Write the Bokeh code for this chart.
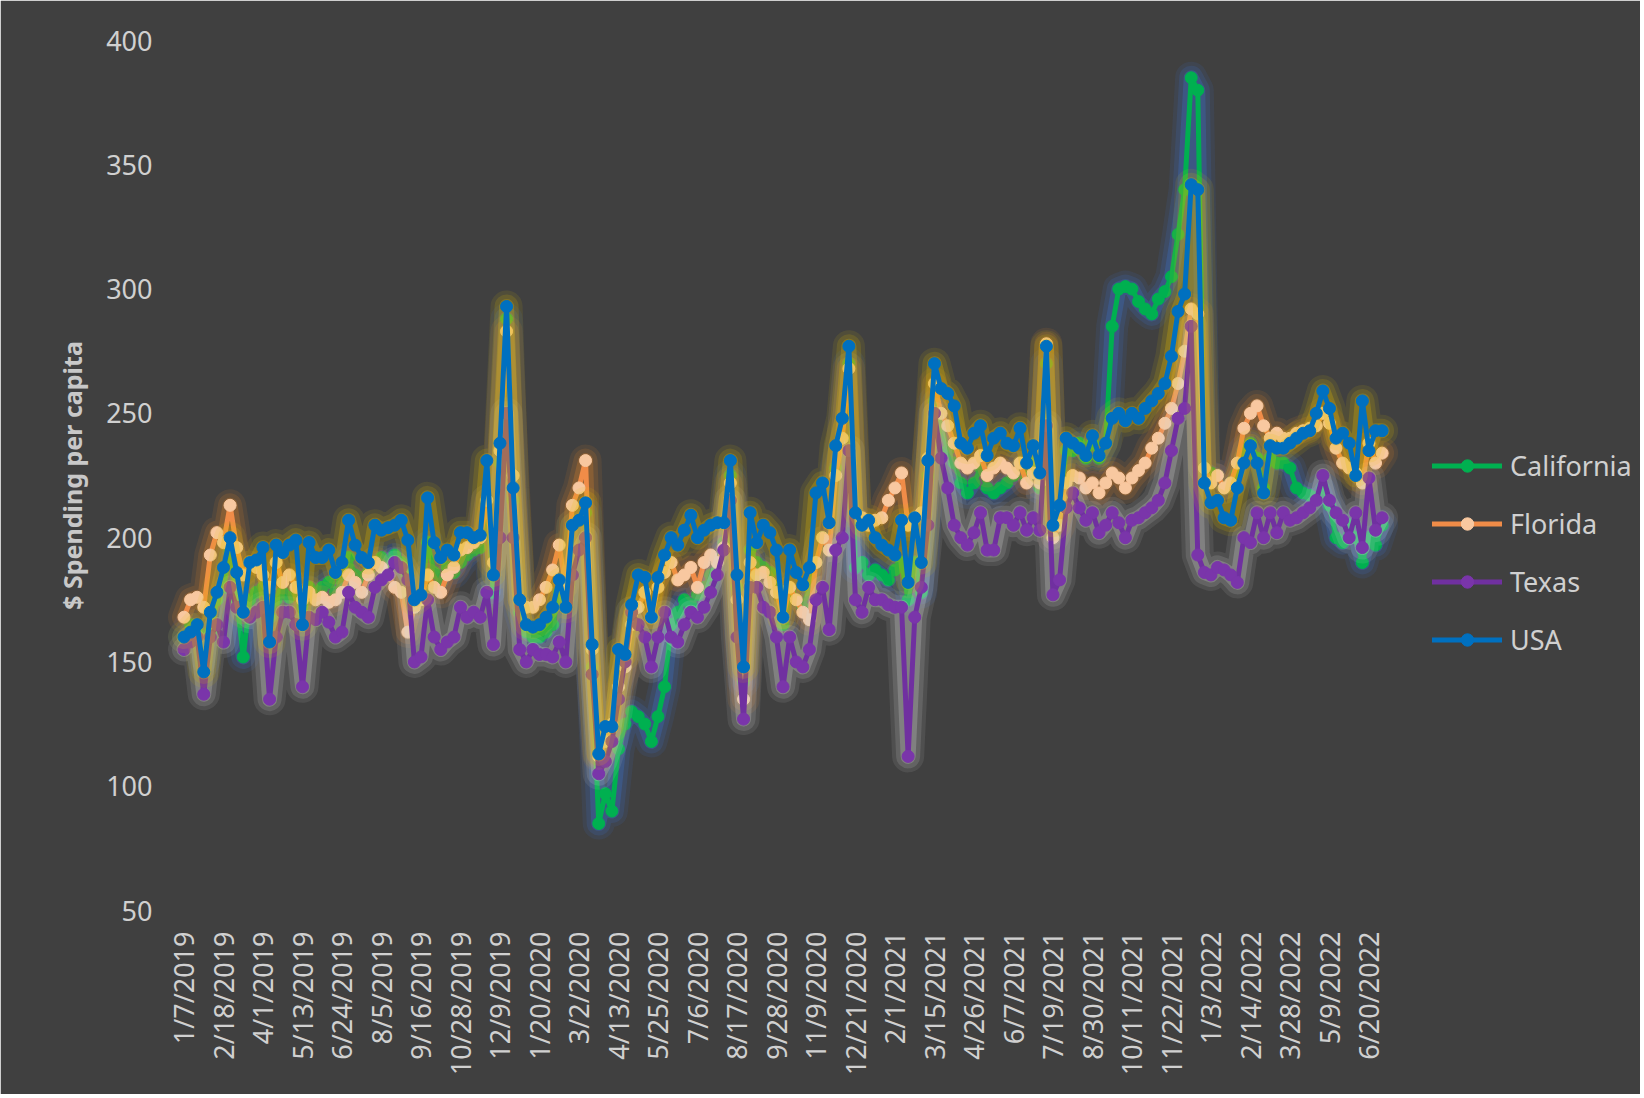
import math
from bokeh.plotting import figure
from bokeh.models import Range1d, FixedTicker, Legend, LegendItem
from bokeh.embed import file_html
from bokeh.resources import INLINE

# Tick labels (every 6th week)
tick_labels = ["1/7/2019", "2/18/2019", "4/1/2019", "5/13/2019", "6/24/2019", "8/5/2019",
               "9/16/2019", "10/28/2019", "12/9/2019", "1/20/2020", "3/2/2020", "4/13/2020",
               "5/25/2020", "7/6/2020", "8/17/2020", "9/28/2020", "11/9/2020", "12/21/2020",
               "2/1/2021", "3/15/2021", "4/26/2021", "6/7/2021", "7/19/2021", "8/30/2021",
               "10/11/2021", "11/22/2021", "1/3/2022", "2/14/2022", "3/28/2022", "5/9/2022",
               "6/20/2022"]

california = [160, 165, 162, 150, 162, 175, 180, 195, 175, 152,
              175, 178, 180, 168, 175, 178, 176, 180, 165, 180,
              178, 180, 182, 178, 182, 192, 185, 184, 186, 190,
              192, 190, 193, 190, 185, 172, 175, 198, 186, 182,
              188, 186, 190, 193, 195, 196, 215, 178, 230, 288,
              215, 170, 162, 160, 160, 162, 165, 178, 172, 205,
              207, 210, 148, 85, 97, 90, 115, 125, 130, 128,
              125, 118, 128, 140, 165, 170, 175, 173, 177, 180,
              185, 190, 198, 225, 180, 142, 195, 190, 188, 186,
              180, 165, 178, 175, 172, 180, 190, 200, 195, 228,
              240, 270, 188, 190, 185, 187, 185, 183, 187, 190,
              175, 190, 178, 225, 255, 245, 235, 230, 222, 218,
              222, 228, 220, 218, 220, 222, 225, 230, 224, 230,
              220, 270, 200, 212, 235, 235, 238, 232, 238, 232,
              238, 285, 300, 301, 300, 295, 292, 290, 296, 299,
              305, 322, 340, 385, 380, 228, 226, 225, 220, 222,
              226, 235, 238, 232, 220, 232, 230, 230, 228, 220,
              218, 217, 216, 220, 213, 200, 198, 205, 200, 190,
              200, 197, 205]

florida = [168, 175, 176, 172, 193, 202, 198, 213, 196, 185,
           190, 188, 185, 180, 190, 182, 185, 180, 175, 178,
           175, 176, 174, 175, 178, 185, 182, 178, 185, 190,
           188, 185, 180, 178, 162, 172, 175, 185, 180, 178,
           185, 188, 195, 196, 198, 200, 215, 190, 235, 283,
           225, 175, 172, 172, 175, 180, 187, 197, 180, 213,
           220, 231, 155, 112, 118, 125, 140, 148, 165, 172,
           178, 168, 180, 186, 190, 183, 185, 188, 180, 190,
           193, 190, 196, 222, 175, 135, 190, 185, 186, 182,
           178, 168, 180, 175, 170, 167, 190, 200, 195, 225,
           240, 268, 210, 208, 205, 207, 208, 215, 220, 226,
           205, 208, 210, 232, 262, 250, 245, 238, 230, 228,
           230, 233, 225, 228, 230, 228, 226, 230, 222, 226,
           222, 278, 200, 205, 222, 225, 224, 220, 222, 218,
           222, 226, 224, 220, 224, 227, 230, 236, 240, 246,
           252, 262, 275, 292, 290, 228, 222, 225, 220, 222,
           230, 244, 250, 253, 245, 240, 242, 240, 240, 242,
           243, 244, 245, 250, 246, 236, 230, 228, 226, 222,
           238, 230, 234]

texas = [155, 158, 160, 137, 160, 165, 158, 180, 172, 170,
         168, 170, 172, 135, 160, 170, 170, 165, 140, 168,
         167, 170, 166, 160, 162, 178, 172, 170, 168, 180,
         183, 185, 190, 188, 183, 150, 152, 175, 160, 155,
         158, 160, 172, 168, 170, 168, 178, 157, 200, 250,
         200, 155, 150, 155, 153, 153, 152, 158, 150, 185,
         195, 200, 145, 105, 110, 118, 135, 150, 170, 165,
         160, 148, 160, 170, 160, 158, 165, 170, 168, 172,
         178, 185, 195, 215, 160, 127, 180, 180, 172, 170,
         160, 140, 160, 150, 148, 155, 175, 180, 163, 195,
         200, 235, 175, 170, 180, 175, 175, 173, 172, 172,
         112, 168, 180, 205, 250, 232, 220, 205, 200, 197,
         202, 210, 195, 195, 208, 208, 205, 210, 203, 208,
         203, 245, 177, 183, 212, 218, 212, 207, 210, 202,
         205, 210, 206, 200, 207, 208, 210, 212, 215, 222,
         235, 248, 252, 285, 193, 186, 185, 188, 187, 185,
         182, 200, 198, 210, 200, 210, 202, 210, 207, 208,
         210, 212, 215, 225, 215, 210, 207, 200, 210, 196,
         224, 203, 208]

usa = [160, 162, 165, 146, 170, 178, 188, 200, 186, 170,
       190, 191, 196, 158, 197, 194, 197, 199, 165, 198,
       192, 192, 195, 186, 190, 207, 197, 192, 190, 205,
       203, 204, 205, 207, 199, 175, 177, 216, 198, 192,
       195, 193, 202, 202, 200, 201, 231, 185, 238, 293,
       220, 175, 165, 164, 165, 168, 172, 183, 172, 205,
       207, 214, 157, 113, 124, 124, 155, 153, 173, 185,
       184, 168, 184, 193, 200, 197, 203, 209, 200, 203,
       205, 206, 206, 231, 185, 148, 210, 198, 205, 202,
       195, 168, 195, 186, 181, 188, 218, 222, 206, 237,
       248, 277, 210, 205, 207, 200, 197, 195, 193, 207,
       182, 208, 190, 231, 270, 260, 258, 253, 238, 236,
       242, 245, 233, 240, 242, 238, 237, 244, 230, 237,
       226, 277, 205, 213, 240, 238, 236, 233, 241, 233,
       238, 248, 250, 247, 250, 248, 252, 255, 258, 262,
       273, 291, 298, 342, 340, 222, 214, 215, 208, 207,
       220, 230, 237, 230, 218, 237, 236, 236, 238, 240,
       242, 243, 250, 259, 252, 240, 242, 238, 225, 255,
       235, 243, 243]

y_ticks = [50, 100, 150, 200, 250, 300, 350, 400]

weeks = list(range(len(usa)))
tick_positions = [6 * k for k in range(len(tick_labels))]

BG = "#404040"
TXT = "#d0d0d0"
FONT = "Noto Sans"

p = figure(width=1640, height=1094, output_backend="svg", toolbar_location=None,
           x_range=Range1d(-2.81, 221.25), y_range=Range1d(50, 400),
           min_border_left=165, min_border_right=0, min_border_top=40, min_border_bottom=184,
           border_fill_color=BG, background_fill_color=BG)
# paint the frame edge in the background colour so no seam shows
p.outline_line_color = BG
p.outline_line_width = 3
p.outline_line_alpha = 1

p.xgrid.visible = False
p.ygrid.visible = False

# Y axis
p.yaxis.ticker = FixedTicker(ticks=y_ticks)
p.yaxis.axis_line_color = None
p.yaxis.major_tick_line_color = None
p.yaxis.minor_tick_line_color = None
p.yaxis.major_tick_out = 0
p.yaxis.major_label_standoff = 13
p.yaxis.major_label_text_font = FONT
p.yaxis.major_label_text_font_size = "27px"
p.yaxis.major_label_text_color = TXT
p.yaxis.axis_label = "$ Spending per capita"
p.yaxis.axis_label_text_font = FONT
p.yaxis.axis_label_text_font_size = "25px"
p.yaxis.axis_label_text_font_style = "bold"
p.yaxis.axis_label_text_color = "#c8c8c8"
p.yaxis.axis_label_standoff = 14

# X axis
p.xaxis.ticker = FixedTicker(ticks=tick_positions)
p.xaxis.major_label_overrides = {t: lbl for t, lbl in zip(tick_positions, tick_labels)}
p.xaxis.major_label_orientation = math.pi / 2
p.xaxis.axis_line_color = None
p.xaxis.major_tick_line_color = None
p.xaxis.minor_tick_line_color = None
p.xaxis.major_tick_out = 0
p.xaxis.major_label_standoff = 21
p.xaxis.major_label_text_font = FONT
p.xaxis.major_label_text_font_size = "27px"
p.xaxis.major_label_text_color = TXT

series = [
    ("California", california, "#00b050", "#00b050", "#3a78e0"),
    ("Florida", florida, "#f08c48", "#f8c8a0", "#e8862a"),
    ("Texas", texas, "#7030a0", "#7a35aa", "#d8d8d8"),
    ("USA", usa, "#0070c0", "#0070c0", "#e6c000"),
]

items = []
for name, vals, lc, mc, gc in series:
    for w, a in [(32, 0.10), (24, 0.15), (15, 0.25)]:
        p.line(weeks, vals, line_width=w, line_color=gc, line_alpha=a,
               line_join="round", line_cap="round")
    lr = p.line(weeks, vals, line_width=5, line_color=lc, line_join="round", line_cap="round")
    sr = p.scatter(weeks, vals, size=12, fill_color=mc, line_color=mc, line_width=1)
    items.append(LegendItem(label=name, renderers=[lr, sr]))

legend = Legend(items=items, location=(1267, 252), orientation="vertical",
                padding=0, margin=0, spacing=21,
                label_height=28, glyph_height=31, glyph_width=70, label_standoff=8,
                label_text_font=FONT, label_text_font_size="27px", label_text_color=TXT,
                background_fill_alpha=0, border_line_alpha=0)
p.add_layout(legend)

open("out.html", "w").write(file_html(p, INLINE))
